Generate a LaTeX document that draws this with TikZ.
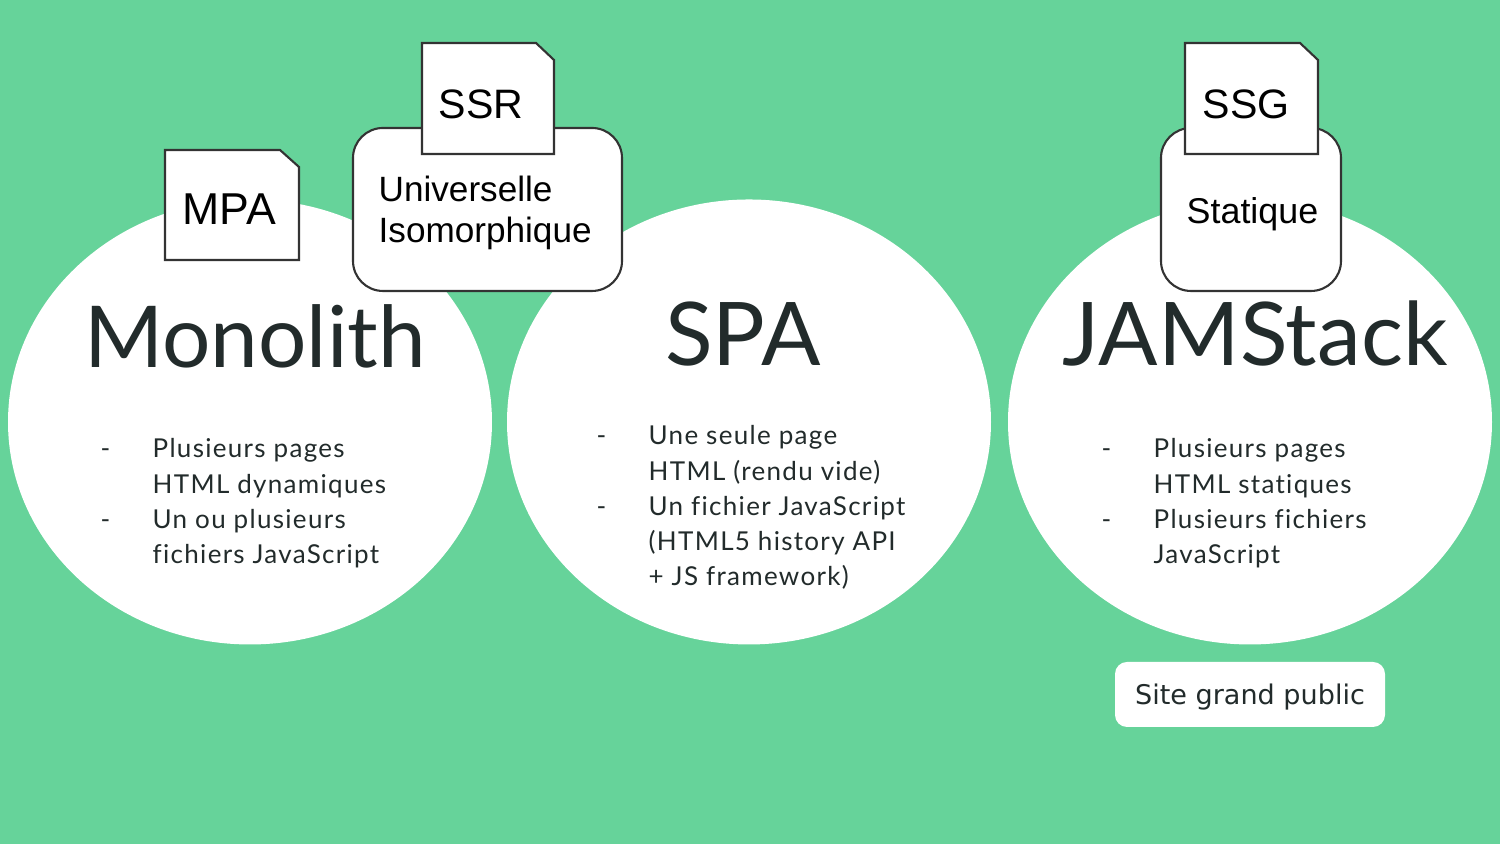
\documentclass[tikz,border=0pt]{standalone}
\usepackage{fontspec}
\setmainfont{Lato}[Ligatures=NoCommon]
\newfontfamily\listefont{Lato}[Ligatures=NoCommon, LetterSpace=5]
\newfontfamily\arialfont{Liberation Sans}
\newfontfamily\dejavufont{DejaVu Sans}
\usetikzlibrary{positioning, shapes.geometric}
\definecolor{fdvert}{HTML}{66D39A}
\definecolor{txtsombre}{HTML}{222B2B}
\definecolor{bord}{HTML}{333333}

\begin{document}
\begin{tikzpicture}[
    bulle/.style={ellipse, fill=white, minimum width=4.84cm, minimum height=4.45cm, inner sep=0pt},
    titre/.style={font=\fontsize{25}{30}\selectfont, text=txtsombre, anchor=base, inner sep=0pt},
    liste/.style={font=\listefont\fontsize{7.4}{10}\selectfont, text=txtsombre, anchor=base west, inner sep=0pt},
    onglet/.style={draw=bord, semithick, fill=white},
    cadre/.style={draw=bord, semithick, fill=white, rounded corners=0.3cm, minimum height=1.63cm, inner sep=0pt},
    etiq/.style={inner sep=0pt, anchor=base west, font=\arialfont\fontsize{11.7}{13}\selectfont},
    etiqcadre/.style={inner sep=0pt, anchor=base west, align=left, font=\arialfont\fontsize{10}{11.7}\selectfont}
  ]
  % fond
  \useasboundingbox (0,0) rectangle (15,8.44);
  \fill[fdvert] (0,0) rectangle (15,8.44);
  % bulles
  \node[bulle] (mono) at (2.50,4.22) {};
  \node[bulle] (spa) at (7.49,4.22) {};
  \node[bulle] (jam) at (12.50,4.22) {};
  % titres
  \node[titre, font=\fontsize{24.3}{30}\selectfont] (tmono) at ([xshift=0.05cm, yshift=0.54cm]mono.center) {Monolith};
  \node[titre] (tspa) at ([xshift=-0.06cm, yshift=0.56cm]spa.center) {SPA};
  \node[titre] (tjam) at ([xshift=0.05cm, yshift=0.56cm]jam.center) {JAMStack};
  % listes
  \node[liste] (lmono) at ([xshift=-1.50cm, yshift=-0.36cm]mono.center) {%
    \begin{tabular}[t]{@{}p{0.52cm}@{}l@{}}
      - & Plusieurs pages\\
        & HTML dynamiques\\
      - & Un ou plusieurs\\
        & fichiers JavaScript
    \end{tabular}};
  \node[liste] (lspa) at ([xshift=-1.53cm, yshift=-0.23cm]spa.center) {%
    \begin{tabular}[t]{@{}p{0.52cm}@{}l@{}}
      - & Une seule page\\
        & HTML (rendu vide)\\
      - & Un fichier JavaScript\\
        & (HTML5 history API\\
        & + JS framework)
    \end{tabular}};
  \node[liste] (ljam) at ([xshift=-1.49cm, yshift=-0.36cm]jam.center) {%
    \begin{tabular}[t]{@{}p{0.52cm}@{}l@{}}
      - & Plusieurs pages\\
        & HTML statiques\\
      - & Plusieurs fichiers\\
        & JavaScript
    \end{tabular}};
  % MPA
  \filldraw[onglet] (1.65,5.84) -- (1.65,6.94) -- (2.80,6.94) -- (2.99,6.77) -- (2.99,5.84) -- cycle;
  \node[etiq, font=\arialfont\fontsize{12.7}{14}\selectfont] (tmpa) at (1.82,6.19) {MPA};
  % SSR
  \node[cadre, minimum width=2.69cm] (univ) at (4.875,6.345) {};
  \node[etiqcadre] (tuniv) at (3.78,6.01) {Universelle\\Isomorphique};
  \filldraw[onglet] (4.22,6.90) -- (4.22,8.01) -- (5.36,8.01) -- (5.54,7.84) -- (5.54,6.90) -- cycle;
  \node[etiq] (tssr) at (4.38,7.25) {SSR};
  % SSG
  \node[cadre, minimum width=1.80cm] (stat) at (12.51,6.345) {};
  \node[etiqcadre, font=\arialfont\fontsize{10.2}{11.7}\selectfont] (tstat) at (11.86,6.20) {Statique};
  \filldraw[onglet] (11.85,6.90) -- (11.85,8.01) -- (13.00,8.01) -- (13.18,7.84) -- (13.18,6.90) -- cycle;
  \node[etiq] (tssg) at (12.02,7.25) {SSG};
  % public
  \node[fill=white, rounded corners=0.12cm, minimum width=2.70cm, minimum height=0.65cm, text=txtsombre,
    text depth=0pt, font=\dejavufont\fontsize{7.7}{9}\selectfont] (public) at (12.50,1.495) {Site grand public};
\end{tikzpicture}
\end{document}
